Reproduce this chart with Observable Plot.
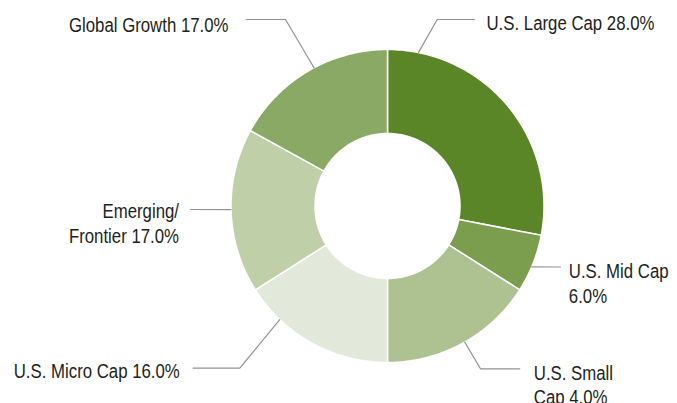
<!DOCTYPE html>
<html>
<head>
<meta charset="utf-8">
<script src="https://cdn.jsdelivr.net/npm/d3@7"></script>
<script src="https://cdn.jsdelivr.net/npm/@observablehq/plot@0.6"></script>
<style>
  html, body { margin: 0; padding: 0; background: #fff; }
  #chart svg { display: block; }
</style>
</head>
<body>
<div id="chart"></div>
<script>
// ---- Data ----
const categories = ["U.S. Large Cap", "U.S. Mid Cap", "U.S. Small Cap", "U.S. Micro Cap", "Emerging/Frontier", "Global Growth"];
const values = [28, 6, 16, 16, 17, 17];               // slice sizes as drawn
const labelTexts = [
  "U.S. Large Cap 28.0%",
  "U.S. Mid Cap\n6.0%",
  "U.S. Small\nCap 4.0%",
  "U.S. Micro Cap 16.0%",
  "Emerging/\nFrontier 17.0%",
  "Global Growth 17.0%"
];
const colors = ["#5b8628", "#7a9d4e", "#adc290", "#e2e9da", "#bfcfa8", "#8aa964"];

// ---- Layout (pixels) ----
const W = 677, H = 403;
const cx = 387, cy = 205.5, R = 156.5, r = 72.5;
// leader: start angle on outer rim (deg clockwise from top), elbow/end points; text anchor
const labelLayout = [
  {angle: 11.4,  pts: [[436.7, 19], [474, 19]],        tx: 486,   ty: 12.3, anchor: "start"},
  {angle: 112.9, pts: [[560, 266.5]],                   tx: 568.3, ty: 260,  anchor: "start"},
  {angle: 150.4, pts: [[480, 368.3], [519.3, 368.3]],   tx: 533.3, ty: 361.5, anchor: "start"},
  {angle: 223.5, pts: [[239.3, 367.7], [192.7, 367.7]], tx: 179.3, ty: 360,  anchor: "end"},
  {angle: 268.7, pts: [[190, 209]],                     tx: 178.5, ty: 199.8, anchor: "end"},
  {angle: 332,   pts: [[285, 19], [245.7, 19]],         tx: 228,   ty: 13.5, anchor: "end"}
];

// ---- Build slice polygons from values ----
const pie = d3.pie().sort(null).value(d => d)(values);
const slicePts = [];
pie.forEach((p, i) => {
  const n = Math.max(8, Math.ceil((p.endAngle - p.startAngle) / (Math.PI / 180)));
  for (let k = 0; k <= n; k++) {
    const a = p.startAngle + (p.endAngle - p.startAngle) * k / n;
    slicePts.push({cat: categories[i], x: cx + R * Math.sin(a), y: cy - R * Math.cos(a)});
  }
  for (let k = n; k >= 0; k--) {
    const a = p.startAngle + (p.endAngle - p.startAngle) * k / n;
    slicePts.push({cat: categories[i], x: cx + r * Math.sin(a), y: cy - r * Math.cos(a)});
  }
});

// ---- Leader lines ----
const leaderPts = [];
labelLayout.forEach((L, i) => {
  const a = L.angle * Math.PI / 180;
  leaderPts.push({cat: categories[i], x: cx + R * Math.sin(a), y: cy - R * Math.cos(a)});
  L.pts.forEach(([x, y]) => leaderPts.push({cat: categories[i], x, y}));
});

const labels = labelLayout.map((L, i) => ({text: labelTexts[i], x: L.tx, y: L.ty, anchor: L.anchor}));

const font = "'Liberation Sans', Arial, sans-serif";
const squeeze = 0.80; // condensed look

const chart = Plot.plot({
  width: W,
  height: H,
  margin: 0,
  x: {type: "linear", domain: [0, W], range: [0, W], axis: null},
  y: {type: "linear", domain: [0, H], range: [0, H], axis: null},
  color: {domain: categories, range: colors},
  style: {fontFamily: font, background: "#fff"},
  marks: [
    Plot.line(slicePts, {x: "x", y: "y", z: "cat", fill: "cat", stroke: "#fff", strokeWidth: 1.5, curve: "linear-closed"}),
    Plot.line(leaderPts, {x: "x", y: "y", z: "cat", stroke: "#939393", strokeWidth: 1.2}),
    Plot.text(labels.filter(d => d.anchor === "start"), {x: "x", y: "y", text: "text", textAnchor: "start", lineAnchor: "top", lineHeight: 1.18, fontSize: 21, fontFamily: font, fill: "#231f20"}),
    Plot.text(labels.filter(d => d.anchor === "end"), {x: "x", y: "y", text: "text", textAnchor: "end", lineAnchor: "top", lineHeight: 1.18, fontSize: 21, fontFamily: font, fill: "#231f20"})
  ]
});

// horizontally condense the label text around its anchor point
d3.select(chart).selectAll('g[aria-label="text"] text').each(function () {
  const t = d3.select(this);
  const tr = t.attr("transform") || "";
  t.attr("transform", `${tr} scale(${squeeze},1)`);
});

document.getElementById("chart").appendChild(chart);
</script>
</body>
</html>
